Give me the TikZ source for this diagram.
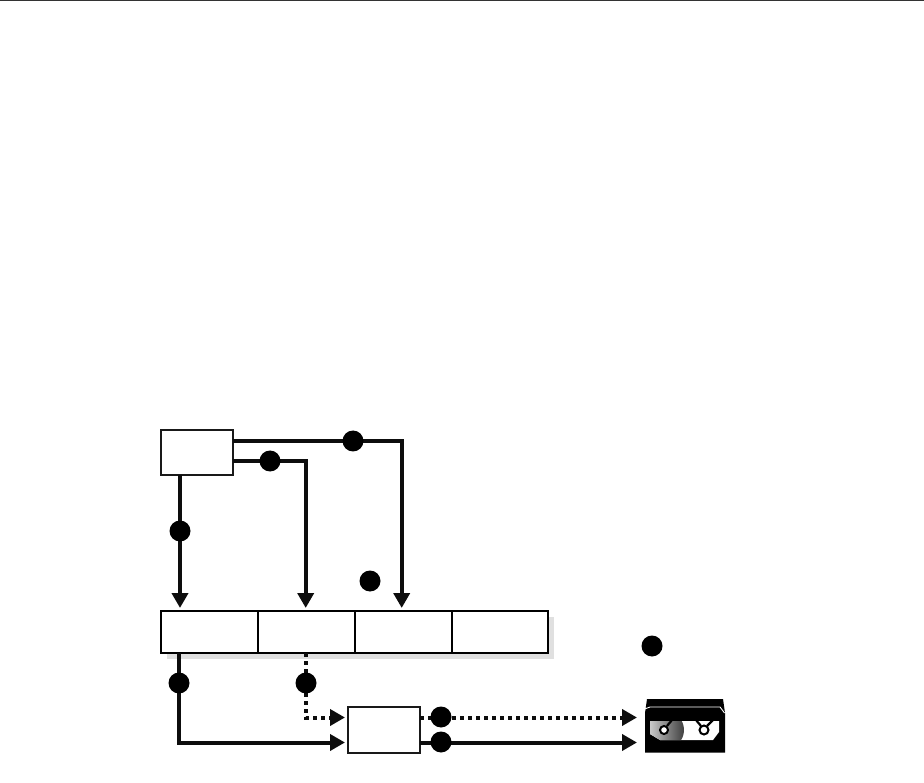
\documentclass[tikz,border=0pt]{standalone}
\usetikzlibrary{arrows.meta,positioning}
\tikzset{
  box/.style={draw=black!90, line width=2pt, fill=white, minimum width=72pt, minimum height=45pt, inner sep=0pt, outer sep=0pt},
  cellbox/.style={draw=black, line width=2.3pt, fill=white, minimum width=97pt, minimum height=42pt, inner sep=0pt, outer sep=0pt},
  stepdot/.style={circle, fill=black, minimum size=21pt, inner sep=0pt},
  link/.style={line width=4pt, black!95, -{Triangle[length=15pt,width=16pt]}, shorten >=3pt},
  dotlink/.style={link, dash pattern=on 4pt off 4pt}
}
\begin{document}
\begin{tikzpicture}[x=1pt,y=-1pt]
  \useasboundingbox (0,0) rectangle (924,783);

  % Top rule
  \draw[black!80, line width=1pt] (0,0.5) -- (924,0.5);

  % Shadow
  \fill[black!12] (167,617) rectangle (554,659);

  % Boxes
  \node[box] (host) at (197,452.5) {};
  \node[cellbox] (cella) at (209.5,632) {};
  \node[cellbox, right=0pt of cella] (cellb) {};
  \node[cellbox, right=0pt of cellb] (cellc) {};
  \node[cellbox, right=0pt of cellc, minimum width=96pt] (celld) {};
  \node[box, minimum height=46pt] (drive) at (384,730) {};

  % Tape
  \node[minimum width=80pt, minimum height=53pt, inner sep=0pt, outer sep=0pt] (tape) at (685,726) {};
  \fill[black] (647,699) -- (723,699) -- (725,713) -- (725,752.5) -- (645,752.5) -- (645,713) -- cycle;
  \draw[white, line width=0.9pt] (644,713) -- (644.5,709) -- (650,707) -- (720,707) -- (724.5,713);
  \fill[white] (650,721) -- (719,721) -- (719,732) -- (713,740) -- (660,740) -- (650,734) -- cycle;
  \begin{scope}
    \clip (650,721) -- (719,721) -- (719,732) -- (713,740) -- (660,740) -- (650,734) -- cycle;
    \clip (665,730) circle (19pt);
    \shade[left color=black!15, right color=black!75] (646,711) rectangle (684,749);
  \end{scope}
  \draw[black, line width=2pt, fill=white] (664,730) circle (4pt);
  \draw[black, line width=2pt, fill=white] (704,730) circle (4.5pt);
  \draw[black, line width=2.2pt] (667,726) -- (672,720);
  \draw[black, line width=2.2pt] (701,726) -- (696,720);
  \draw[black, line width=2.2pt] (707,726) -- (713,720);

  % Coordinates of the free ends
  \coordinate (hostdown) at (180,475);
  \coordinate (cellaup) at (180,611);
  \coordinate (cellbup) at (305.7,611);
  \coordinate (cellcup) at (401.7,611);
  \coordinate (cellaout) at (179,653);
  \coordinate (cellbout) at (305.7,653);
  \coordinate (tapetop) at (640,717.5);
  \coordinate (tapelow) at (640,742.5);
  \coordinate (drivetop) at (drive.west |- 0,717.5);
  \coordinate (drivelow) at (drive.west |- 0,742.5);

  % Links
  \draw[link] (hostdown) -- (cellaup);
  \draw[link] (host.east |- 0,461) -| (cellbup);
  \draw[link] (host.east |- 0,441) -| (cellcup);
  \draw[link] (cellaout) |- (drivelow);
  \draw[dotlink] (cellbout) |- (drivetop);
  \draw[dotlink] (drive.east |- tapetop) -- (tapetop);
  \draw[link] (drive.east |- tapelow) -- (tapelow);

  % Numbered dots
  \node[stepdot] (dota) at (353,441) {};
  \node[stepdot] (dotb) at (270,461) {};
  \node[stepdot] (dotc) at (180,531) {};
  \node[stepdot] (dotd) at (370,581) {};
  \node[stepdot] (dote) at (652,646) {};
  \node[stepdot] (dotf) at (179,683) {};
  \node[stepdot] (dotg) at (306,683) {};
  \node[stepdot] (doth) at (441,717) {};
  \node[stepdot] (doti) at (441,742) {};

\end{tikzpicture}
\end{document}
